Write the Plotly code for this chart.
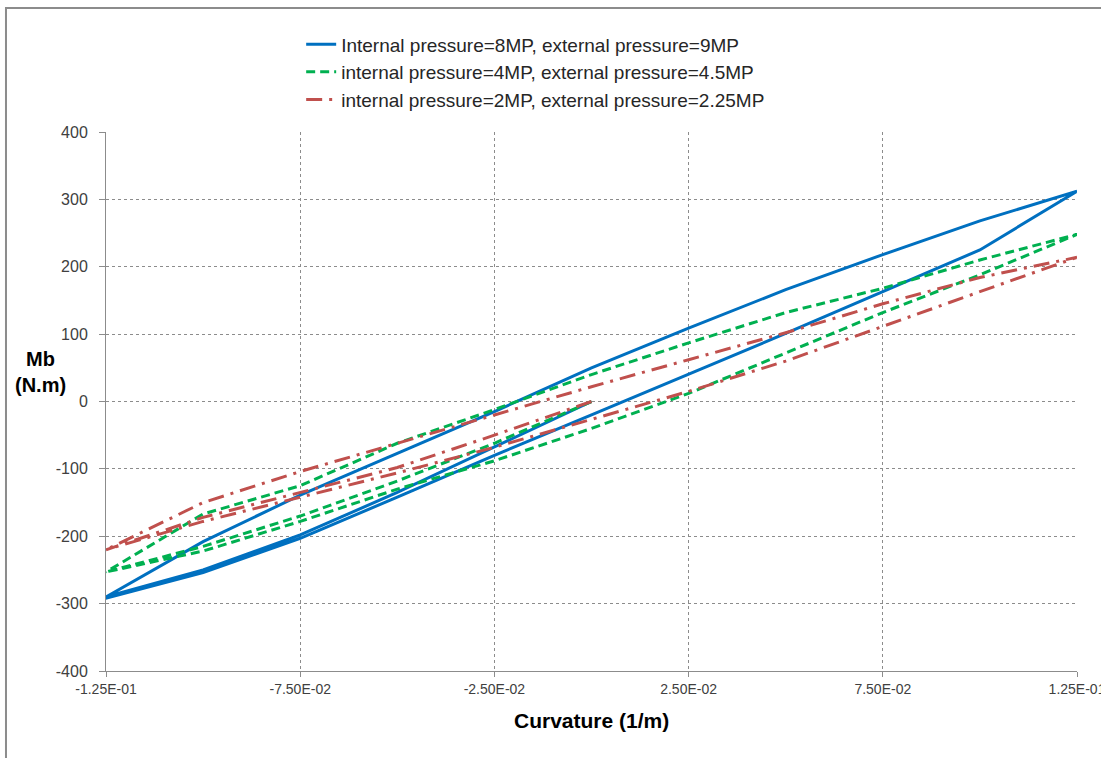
import plotly.graph_objects as go

# Curvature stations (1/m) for each branch of the loops
K_INITIAL = [0.0, -0.025, -0.05, -0.075, -0.1, -0.125]
K_LOWER = [-0.125, -0.1, -0.075, -0.05, -0.025, 0.0, 0.025, 0.05, 0.075, 0.1, 0.125]
K_UPPER = [0.125, 0.1, 0.075, 0.05, 0.025, 0.0, -0.025, -0.05, -0.075, -0.1, -0.125]

# Moments Mb (N.m), internal 8MP / external 9MP
BLUE_INITIAL = [0, -68, -135, -198, -250, -290]
BLUE_LOWER = [-292, -254, -203, -142, -80, -20, 40, 101, 163, 225, 312]
BLUE_UPPER = [312, 268, 218, 166, 109, 50, -15, -77, -139, -208, -290]

# internal 4MP / external 4.5MP
GREEN_INITIAL = [0, -62, -118, -170, -215, -253]
GREEN_LOWER = [-253, -222, -178, -130, -88, -40, 12, 72, 132, 188, 248]
GREEN_UPPER = [248, 210, 168, 132, 87, 40, -12, -62, -125, -167, -253]

# internal 2MP / external 2.25MP
RED_INITIAL = [0, -50, -98, -135, -172, -220]
RED_LOWER = [-220, -178, -142, -106, -68, -27, 15, 60, 112, 163, 214]
RED_UPPER = [214, 184, 145, 102, 62, 22, -20, -62, -104, -150, -220]

SERIES_NAMES = [
    "Internal pressure=8MP, external pressure=9MP",
    "internal pressure=4MP, external pressure=4.5MP",
    "internal pressure=2MP, external pressure=2.25MP",
]

X_TICKS = [-0.125, -0.075, -0.025, 0.025, 0.075, 0.125]
X_TICK_TEXT = ["-1.25E-01", "-7.50E-02", "-2.50E-02", "2.50E-02", "7.50E-02", "1.25E-01"]
Y_TICKS = [-400, -300, -200, -100, 0, 100, 200, 300, 400]
Y_TICK_TEXT = ["-400", "-300", "-200", "-100", "0", "100", "200", "300", "400"]

K_PATH = K_INITIAL + K_LOWER + K_UPPER

series = [
    (SERIES_NAMES[0], BLUE_INITIAL + BLUE_LOWER + BLUE_UPPER, "#0070C0", "solid"),
    (SERIES_NAMES[1], GREEN_INITIAL + GREEN_LOWER + GREEN_UPPER, "#00B050", "9px,5px"),
    (SERIES_NAMES[2], RED_INITIAL + RED_LOWER + RED_UPPER, "#C0504D", "16px,7px,3px,7px"),
]

fig = go.Figure()
for name, m, color, dash in series:
    fig.add_trace(go.Scatter(
        x=K_PATH, y=m, mode="lines", name=name,
        line=dict(color=color, width=3, dash=dash),
    ))

FONT = "Liberation Sans, Arial, sans-serif"
GRID = "#8c8c8c"

fig.update_layout(
    width=1101, height=758,
    margin=dict(l=106, r=24, t=132, b=87, autoexpand=False),
    paper_bgcolor="white", plot_bgcolor="white",
    font=dict(family=FONT, color="#404040"),
    showlegend=True,
    legend=dict(
        x=0.201, y=1.198, xanchor="left", yanchor="top",
        font=dict(family=FONT, size=19, color="#262626"),
        bgcolor="rgba(0,0,0,0)",
        itemwidth=30,
    ),
    xaxis=dict(
        range=[-0.125, 0.125], tickvals=X_TICKS, ticktext=X_TICK_TEXT,
        showgrid=True, gridcolor=GRID, griddash="3px,3px", gridwidth=1,
        zeroline=False, showline=True, linecolor=GRID, linewidth=1,
        ticks="outside", ticklen=5, tickcolor=GRID,
        tickfont=dict(family=FONT, size=14, color="#404040"),
        ticklabeloverflow="allow",
        automargin=False,
    ),
    yaxis=dict(
        range=[-400, 400], tickvals=Y_TICKS, ticktext=Y_TICK_TEXT,
        showgrid=True, gridcolor=GRID, griddash="3px,3px", gridwidth=1,
        zeroline=False, showline=True, linecolor=GRID, linewidth=1,
        ticks="outside", ticklen=6, tickcolor=GRID,
        tickfont=dict(family=FONT, size=16, color="#404040"),
        ticklabelstandoff=8,
        automargin=False,
    ),
    annotations=[
        dict(text="<b>Curvature (1/m)</b>", x=0.5, y=-0.091, xref="paper", yref="paper",
             xanchor="center", yanchor="middle", showarrow=False,
             font=dict(family=FONT, size=21, color="#000000")),
        dict(text="<b>Mb</b><br><b>(N.m)</b>", x=-0.067, y=0.555, xref="paper", yref="paper",
             xanchor="center", yanchor="middle", showarrow=False,
             font=dict(family=FONT, size=20, color="#000000")),
    ],
    shapes=[
        dict(type="rect", xref="paper", yref="paper",
             x0=-0.103, x1=1.05, y0=-0.2, y1=1.230,
             line=dict(color="#8c8c8c", width=2), fillcolor="rgba(0,0,0,0)", layer="below"),
    ],
)

fig.write_html("out.html")
